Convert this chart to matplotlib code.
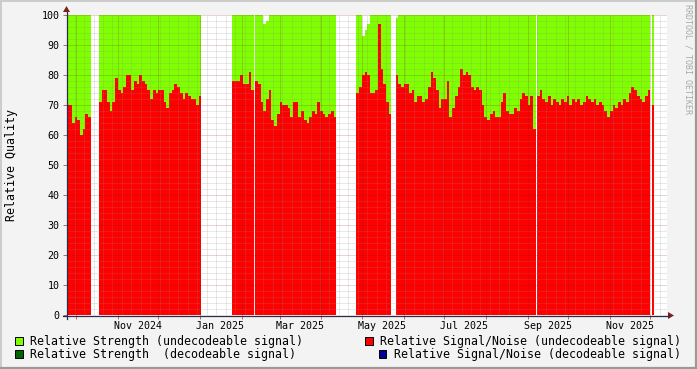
import matplotlib
matplotlib.use('Agg')
import matplotlib.pyplot as plt
import matplotlib.dates as mdates
import numpy as np
import datetime as dt
from matplotlib.patches import Rectangle, Polygon
from matplotlib.lines import Line2D

# ---------------- data (2-day bins, one list per recorded segment) ----------------
seg_starts = ['2024-09-24', '2024-10-18', '2025-01-25', '2025-02-11',
              '2025-04-27', '2025-05-26', '2025-09-08', '2025-12-02']
bin_days = 2

snr_seg1 = [70, 70, 64, 66, 65, 60, 62, 67, 66]
snr_seg2 = [71, 75, 75, 71, 68, 71, 79, 75, 74, 76, 80, 80, 75, 78, 77, 80, 78, 77, 75,
            72, 75, 74, 75, 75, 71, 69, 74, 75, 77, 76, 74, 72, 74, 73, 72, 72, 70, 73]
snr_seg3 = [78, 78, 78, 80, 77, 77, 81, 75]
snr_seg4 = [78, 77, 71, 68, 72, 75, 65, 63, 67, 71, 70, 70, 69, 66, 71, 71, 66, 68, 65,
            64, 66, 68, 67, 71, 68, 67, 66, 67, 68, 66]
snr_seg5 = [74, 76, 80, 81, 80, 74, 74, 75, 97, 82, 77, 71, 67]
snr_seg6 = [80, 77, 76, 77, 77, 74, 75, 71, 73, 73, 71, 72, 76, 81, 79, 75, 69, 72, 72,
            78, 66, 69, 73, 76, 82, 80, 81, 80, 76, 75, 76, 75, 70, 66, 65, 67, 68, 66,
            66, 71, 74, 68, 67, 67, 69, 68, 72, 74, 73, 70, 73, 62]
snr_seg7 = [73, 75, 72, 71, 73, 70, 72, 71, 70, 72, 71, 73, 70, 72, 71, 72, 70, 71, 73,
            72, 71, 72, 70, 71, 70, 68, 66, 68, 70, 69, 71, 70, 72, 71, 74, 76, 75, 73,
            72, 71, 73, 75]
snr_seg8 = [70]

str_seg1 = [100] * 9
str_seg2 = [100] * 38
str_seg3 = [100] * 8
str_seg4 = [100, 100, 100, 97, 98] + [100] * 25
str_seg5 = [100, 100, 93, 95, 97, 100, 100, 100, 100, 100, 100, 100, 100]
str_seg6 = [99] + [100] * 51
str_seg7 = [100] * 42
str_seg8 = [100]

snr_segments = [snr_seg1, snr_seg2, snr_seg3, snr_seg4, snr_seg5, snr_seg6, snr_seg7, snr_seg8]
str_segments = [str_seg1, str_seg2, str_seg3, str_seg4, str_seg5, str_seg6, str_seg7, str_seg8]

y_ticks = [0, 10, 20, 30, 40, 50, 60, 70, 80, 90, 100]
x_label_months = ['2024-11', '2025-01', '2025-03', '2025-05', '2025-07', '2025-09', '2025-11']
x_label_texts = ['Nov 2024', 'Jan 2025', 'Mar 2025', 'May 2025', 'Jul 2025', 'Sep 2025', 'Nov 2025']

legend_items = [
    ('Relative Strength (undecodeable signal)', '#7FFF00'),
    ('Relative Strength  (decodeable signal)', '#006400'),
    ('Relative Signal/Noise (undecodeable signal)', '#FF0000'),
    ('Relative Signal/Noise (decodeable signal)', '#000099'),
]

# ---------------- figure ----------------
W, H = 697, 369
MONO = 'DejaVu Sans Mono'
fig = plt.figure(figsize=(W / 100, H / 100), dpi=100, facecolor='#F3F3F3')

def fx(px):
    return px / W

def fy(py):
    return 1 - py / H

ax = fig.add_axes([fx(67), fy(315), 600 / W, 300 / H])
ax.set_facecolor('white')
for s in ax.spines.values():
    s.set_visible(False)

jan1 = mdates.date2num(dt.datetime(2025, 1, 1))
xmin = jan1 - 98.7
xmax = jan1 + 346.4
ax.set_xlim(xmin, xmax)
ax.set_ylim(0, 100)

for start, snr, stv in zip(seg_starts, snr_segments, str_segments):
    s0 = mdates.date2num(dt.datetime.strptime(start, '%Y-%m-%d'))
    edges = s0 + bin_days * np.arange(len(snr) + 1)
    ax.stairs(stv, edges, fill=True, baseline=0, color='#7FFF00', lw=0, zorder=1)
    ax.stairs(snr, edges, fill=True, baseline=0, color='#FF0000', lw=0, zorder=2)

# grid (drawn over data, rrdtool style)
minor_c = (0x8C / 255, 0x8C / 255, 0x8C / 255, 0.40)
major_c = (0x82 / 255, 0x1E / 255, 0x1E / 255, 0.38)
dash = (0, (1, 1))
for yv in range(2, 101, 2):
    ax.axhline(yv, color=major_c if yv % 10 == 0 else minor_c, lw=0.72, ls=dash, zorder=3)

month_starts = []
d = dt.datetime(2024, 10, 1)
while mdates.date2num(d) < xmax:
    month_starts.append(mdates.date2num(d))
    d = dt.datetime(d.year + (d.month // 12), d.month % 12 + 1, 1)
d = dt.datetime(2024, 9, 23)  # Monday
while mdates.date2num(d) < xmax:
    v = mdates.date2num(d)
    if v > xmin and all(abs(v - m) > 0.5 for m in month_starts):
        ax.axvline(v, color=minor_c, lw=0.72, ls=dash, zorder=3)
    d += dt.timedelta(days=7)
for m in month_starts:
    ax.axvline(m, color=major_c, lw=0.72, ls=dash, zorder=3)

# ticks
ax.set_yticks(y_ticks)
ax.set_yticklabels([str(t) for t in y_ticks], fontfamily=MONO, fontsize=7.2)
ax.tick_params(axis='y', length=3, width=0.72, color='#B07070', pad=2.5)
ax.set_xticks(month_starts)
ax.set_xticklabels([''] * len(month_starts))
ax.tick_params(axis='x', which='major', length=3, width=0.72, color='#B07070')
lab_pos = [mdates.date2num(dt.datetime.strptime(m + '-01', '%Y-%m-%d')) + 15 for m in x_label_months]
ax.set_xticks(lab_pos, minor=True)
ax.set_xticklabels(x_label_texts, minor=True, fontfamily=MONO, fontsize=7.2)
ax.tick_params(axis='x', which='minor', length=0, pad=4.5)

# axes lines and arrows
axis_c = '#2C2C48'
fig.add_artist(Line2D([fx(63), fx(669)], [fy(315.5), fy(315.5)], transform=fig.transFigure,
                      color=axis_c, lw=0.9))
fig.add_artist(Line2D([fx(66.5), fx(66.5)], [fy(319), fy(12)], transform=fig.transFigure,
                      color=axis_c, lw=0.9))
arrow_c = '#7F1F1F'
fig.add_artist(Polygon([(fx(668), fy(312)), (fx(668), fy(319)), (fx(674), fy(315.5))],
                       closed=True, transform=fig.transFigure, color=arrow_c, lw=0))
fig.add_artist(Polygon([(fx(63), fy(12)), (fx(70), fy(12)), (fx(66.5), fy(6))],
                       closed=True, transform=fig.transFigure, color=arrow_c, lw=0))

# labels
fig.text(fx(12), fy(165), 'Relative Quality', rotation=90, ha='center', va='center',
         fontfamily=MONO, fontsize=8.4)
fig.text(fx(688), fy(4), 'RRDTOOL / TOBI OETIKER', rotation=-90, ha='center', va='top',
         fontfamily=MONO, fontsize=6, color='#A8A8A8')

# legend
leg_pos = [(15, 337, 30, 341), (15, 350, 30, 354.5), (365, 337, 380, 341), (379, 350, 394, 354.5)]
for (label, col), (sx, sy, tx, ty) in zip(legend_items, leg_pos):
    fig.add_artist(Rectangle((fx(sx), fy(sy + 7.5)), 7.5 / W, 7.5 / H, transform=fig.transFigure,
                             facecolor=col, edgecolor='#000000', lw=0.7))
    fig.text(fx(tx), fy(ty), label, ha='left', va='center', fontfamily=MONO, fontsize=8.4)

# frame shading
fig.add_artist(Line2D([0, 1], [fy(0.75), fy(0.75)], transform=fig.transFigure, color='#CBCBCB', lw=1.4))
fig.add_artist(Line2D([fx(0.75), fx(0.75)], [0, 1], transform=fig.transFigure, color='#CBCBCB', lw=1.4))
fig.add_artist(Line2D([fx(696), fx(696)], [0, 1], transform=fig.transFigure, color='#999999', lw=1.6))
fig.add_artist(Line2D([0, 1], [fy(367.8), fy(367.8)], transform=fig.transFigure, color='#999999', lw=1.6))

fig.savefig('out.png', dpi=100, facecolor=fig.get_facecolor())
